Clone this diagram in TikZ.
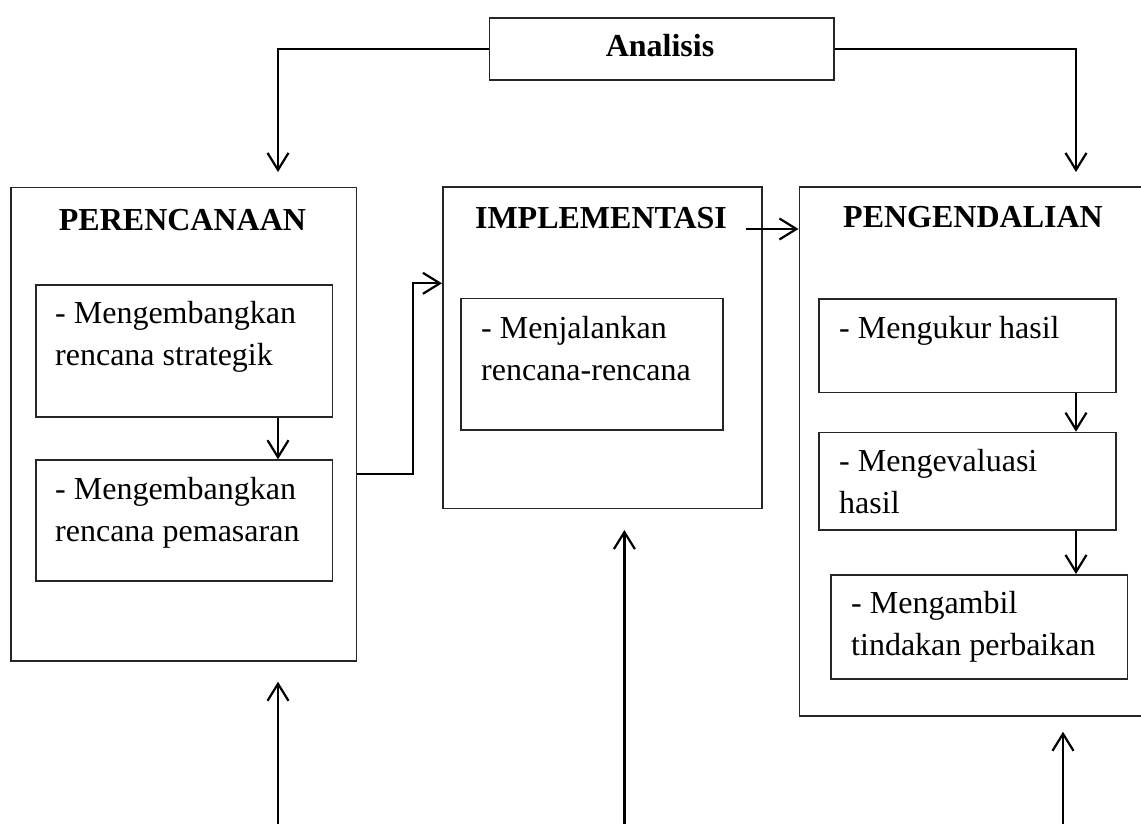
\documentclass[tikz,border=0pt]{standalone}
\usepackage{fontspec}
\setmainfont{Liberation Serif}
\usetikzlibrary{arrows.meta}
\newcommand{\tln}[2]{\vtop{\baselineskip=42pt\hbox{#1}\hbox{#2}}}
\begin{document}
\begin{tikzpicture}[x=1pt,y=-1pt,
  boxe/.style={draw=black!85,line width=1.5pt,inner sep=0pt,anchor=north west,fill=none},
  ttl/.style={font=\fontsize{32}{42}\selectfont\bfseries,anchor=base,inner sep=0pt},
  txt/.style={font=\fontsize{32}{42}\selectfont,anchor=base west,inner sep=0pt},
  conn/.style={line width=2.2pt,-{Straight Barb[length=17pt,width=21pt,line width=2.2pt]}},
  plain/.style={line width=2.2pt}]
\useasboundingbox (0,0) rectangle (1141,823);
% boxes
\node[boxe,minimum width=344.5pt,minimum height=62pt] (ana) at (488.5,17) {};
\node[boxe,minimum width=345.7pt,minimum height=473.3pt] (peren) at (10,186.7) {};
\node[boxe,minimum width=296.7pt,minimum height=131.7pt] (b1) at (35,284.3) {};
\node[boxe,minimum width=296.7pt,minimum height=120.7pt] (b2) at (35,459.3) {};
\node[boxe,minimum width=319.3pt,minimum height=321.4pt] (impl) at (442,186.3) {};
\node[boxe,minimum width=262pt,minimum height=131.6pt] (i1) at (460,297.7) {};
\node[boxe,minimum width=380pt,minimum height=529pt] (peng) at (798.5,186) {};
\node[boxe,minimum width=296.7pt,minimum height=93.4pt] (p1) at (818.3,298.3) {};
\node[boxe,minimum width=296.7pt,minimum height=97.6pt] (p2) at (818.3,431.7) {};
\node[boxe,minimum width=296.7pt,minimum height=104.3pt] (p3) at (830,574) {};
% titles
\node[ttl] (tana) at (660,56) {Analisis};
\node[ttl] (tper) at (182.5,230) {PERENCANAAN};
\node[ttl] (timp) at (601,228) {IMPLEMENTASI};
\node[ttl] (tpen) at (973,227) {PENGENDALIAN};
% texts
\node[txt] (xb1) at (55,323) {\tln{- Mengembangkan}{rencana strategik}};
\node[txt] (xb2) at (55,499) {\tln{- Mengembangkan}{rencana pemasaran}};
\node[txt] (xi1) at (481,338) {\tln{- Menjalankan}{rencana-rencana}};
\node[txt] (xp1) at (839,338) {- Mengukur hasil};
\node[txt] (xp2) at (839,471.7) {\tln{- Mengevaluasi}{hasil}};
\node[txt] (xp3) at (851,613) {\tln{- Mengambil}{tindakan perbaikan}};
% coordinates
\coordinate (a1) at (278,172);
\coordinate (a2) at (1076,172);
\coordinate (j1) at (412.7,474);
\coordinate (j2) at (412.7,283.3);
\coordinate (j3) at (745.7,229);
\coordinate (c1) at (278,830);
\coordinate (c1t) at (278,681.7);
\coordinate (c2) at (624.4,830);
\coordinate (c2t) at (624.4,530);
\coordinate (c3) at (1063,830);
\coordinate (c3t) at (1063,731.7);
% connectors
\draw[conn] (ana.west) -| (a1);
\draw[conn] (ana.east) -| (a2);
\draw[conn] (b1.south -| a1) -- (b2.north -| a1);
\draw[conn] (peren.east |- j1) -- (j1) -- (j2) -- (impl.west |- j2);
\draw[conn] (j3) -- (peng.west |- j3);
\draw[conn] (p1.south -| a2) -- (p2.north -| a2);
\draw[conn] (p2.south -| a2) -- (p3.north -| a2);
\draw[conn] (c1) -- (c1t);
\draw[conn] (c2) -- (c2t);
\draw[conn] (c3) -- (c3t);
\end{tikzpicture}
\end{document}
